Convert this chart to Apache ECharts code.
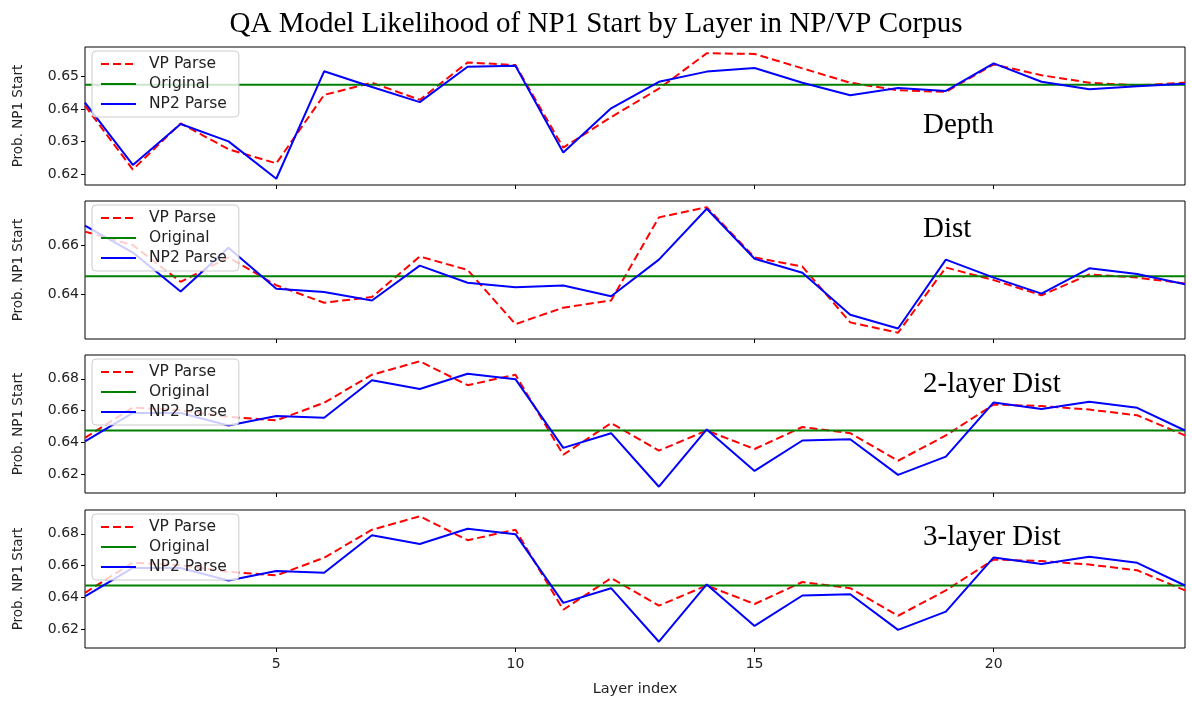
<!DOCTYPE html>
<html>
<head>
<meta charset="utf-8">
<script src="https://cdn.jsdelivr.net/npm/echarts@6/dist/echarts.min.js"></script>
<style>
  html, body { margin: 0; padding: 0; background: #fff; }
  #main { width: 1192px; height: 702px; }
</style>
</head>
<body>
<div id="main"></div>
<script>
// data
var layers = [1, 2, 3, 4, 5, 6, 7, 8, 9, 10, 11, 12, 13, 14, 15, 16, 17, 18, 19, 20, 21, 22, 23, 24];
var original = 0.6474;

var depthVP  = [0.641, 0.6215, 0.6356, 0.6277, 0.6234, 0.6443, 0.648, 0.6428, 0.6542, 0.6534, 0.6282, 0.6375, 0.6462, 0.657, 0.6568, 0.6524, 0.648, 0.6457, 0.6452, 0.6536, 0.6503, 0.648, 0.6472, 0.648];
var depthNP2 = [0.6419, 0.6229, 0.6354, 0.6301, 0.6187, 0.6515, 0.6467, 0.6421, 0.6529, 0.6532, 0.6267, 0.6402, 0.6483, 0.6514, 0.6525, 0.648, 0.6442, 0.6464, 0.6455, 0.6539, 0.6483, 0.646, 0.6469, 0.6477];

var distVP  = [0.6655, 0.66, 0.6451, 0.655, 0.6437, 0.6366, 0.6389, 0.6554, 0.6499, 0.6279, 0.6346, 0.6375, 0.6713, 0.6754, 0.655, 0.6513, 0.6286, 0.6244, 0.6509, 0.6458, 0.6396, 0.6481, 0.6468, 0.6444];
var distNP2 = [0.6679, 0.657, 0.6412, 0.6589, 0.6423, 0.641, 0.6375, 0.6517, 0.6447, 0.6429, 0.6436, 0.6392, 0.6541, 0.6748, 0.6545, 0.6488, 0.6317, 0.6261, 0.6541, 0.6468, 0.6403, 0.6506, 0.6483, 0.6441];

var dist2VP  = [0.6428, 0.6619, 0.6602, 0.656, 0.6538, 0.6649, 0.6826, 0.6911, 0.676, 0.6826, 0.6321, 0.6521, 0.6347, 0.6474, 0.6357, 0.6496, 0.6457, 0.6283, 0.6443, 0.6638, 0.6628, 0.6606, 0.657, 0.6443];
var dist2NP2 = [0.6406, 0.6585, 0.6585, 0.6506, 0.6566, 0.6555, 0.6791, 0.6736, 0.6832, 0.6798, 0.6364, 0.6457, 0.6119, 0.6481, 0.6219, 0.6411, 0.6419, 0.6194, 0.6309, 0.6651, 0.6609, 0.6655, 0.6617, 0.6474];

var dist3VP  = [0.6428, 0.6619, 0.6602, 0.656, 0.6538, 0.6649, 0.6826, 0.6911, 0.676, 0.6826, 0.6321, 0.6521, 0.6347, 0.6474, 0.6357, 0.6496, 0.6457, 0.6283, 0.6443, 0.6638, 0.6628, 0.6606, 0.657, 0.6443];
var dist3NP2 = [0.6406, 0.6585, 0.6585, 0.6506, 0.6566, 0.6555, 0.6791, 0.6736, 0.6832, 0.6798, 0.6364, 0.6457, 0.6119, 0.6481, 0.6219, 0.6411, 0.6419, 0.6194, 0.6309, 0.6651, 0.6609, 0.6655, 0.6617, 0.6474];

var xTicks = [5, 10, 15, 20];
var depthTicks = [0.62, 0.63, 0.64, 0.65];
var distTicks = [0.64, 0.66];
var dist2Ticks = [0.62, 0.64, 0.66, 0.68];
var dist3Ticks = [0.62, 0.64, 0.66, 0.68];

var panelNames = ['Depth', 'Dist', '2-layer Dist', '3-layer Dist'];

var panels = [
    {vp: depthVP, np2: depthNP2, ticks: depthTicks},
    {vp: distVP, np2: distNP2, ticks: distTicks},
    {vp: dist2VP, np2: dist2NP2, ticks: dist2Ticks},
    {vp: dist3VP, np2: dist3NP2, ticks: dist3Ticks}
];

var tops = [47, 201, 355, 510];
var labelTops = [106, 210, 365, 518];
var panelH = 138;

function pairs(vals) {
    var out = [];
    for (var i = 0; i < layers.length; i++) {
        out.push([layers[i], vals[i]]);
    }
    return out;
}

var chart = echarts.init(document.getElementById('main'));

var grids = [], xAxes = [], yAxes = [], series = [], legends = [];
var titles = [{
    text: 'QA Model Likelihood of NP1 Start by Layer in NP/VP Corpus',
    left: 'center',
    top: 5,
    textStyle: {fontFamily: 'Liberation Serif', fontSize: 29, fontWeight: 'normal', color: '#000'}
}];

for (var p = 0; p < panels.length; p++) {
    var last = (p === panels.length - 1);
    grids.push({
        left: 85, width: 1100, top: tops[p], height: panelH,
        show: true, borderColor: '#000', borderWidth: 1, backgroundColor: 'transparent'
    });
    xAxes.push({
        type: 'value', gridIndex: p, min: 1, max: 24,
        axisLine: {show: false},
        axisTick: {show: true, length: 4, customValues: xTicks, lineStyle: {color: '#000'}},
        axisLabel: {show: last, customValues: xTicks, fontFamily: 'DejaVu Sans', fontSize: 14, color: '#222', margin: 9},
        splitLine: {show: false},
        name: last ? 'Layer index' : '',
        nameLocation: 'middle', nameGap: 34,
        nameTextStyle: {fontFamily: 'DejaVu Sans', fontSize: 14.5, color: '#222'}
    });
    yAxes.push({
        type: 'value', gridIndex: p,
        // matplotlib style 5% margins
        min: function (v) { return v.min - 0.05 * (v.max - v.min); },
        max: function (v) { return v.max + 0.05 * (v.max - v.min); },
        axisLine: {show: false},
        axisTick: {show: true, length: 4, customValues: panels[p].ticks, lineStyle: {color: '#000'}},
        axisLabel: {
            customValues: panels[p].ticks, fontFamily: 'DejaVu Sans', fontSize: 14, color: '#222', margin: 6,
            formatter: function (v) { return v.toFixed(2); }
        },
        splitLine: {show: false},
        name: 'Prob. NP1 Start', nameLocation: 'middle', nameRotate: 90, nameGap: 60,
        nameTextStyle: {fontFamily: 'DejaVu Sans', fontSize: 13.5, color: '#222'}
    });
    series.push({
        name: 'VP Parse', type: 'line', xAxisIndex: p, yAxisIndex: p,
        symbol: 'none', data: pairs(panels[p].vp), z: 2,
        lineStyle: {color: '#ff0000', width: 2, type: [8, 4]}, itemStyle: {color: '#ff0000'}
    });
    series.push({
        name: 'Original', type: 'line', xAxisIndex: p, yAxisIndex: p,
        symbol: 'none', data: [[layers[0], original], [layers[layers.length - 1], original]], z: 2,
        lineStyle: {color: '#008000', width: 2}, itemStyle: {color: '#008000'}
    });
    series.push({
        name: 'NP2 Parse', type: 'line', xAxisIndex: p, yAxisIndex: p,
        symbol: 'none', data: pairs(panels[p].np2), z: 3,
        lineStyle: {color: '#0000ff', width: 2}, itemStyle: {color: '#0000ff'}
    });
    legends.push({
        data: ['VP Parse', 'Original', 'NP2 Parse'],
        orient: 'vertical', left: 92, top: tops[p] + 4,
        itemWidth: 35, itemHeight: 16, itemGap: 4,
        padding: [5, 12, 5, 8],
        itemStyle: {opacity: 0},
        backgroundColor: 'rgba(255,255,255,0.8)', borderColor: '#ccc', borderWidth: 1, borderRadius: 4,
        textStyle: {fontFamily: 'DejaVu Sans', fontSize: 15.5, color: '#222', padding: [0, 0, 0, 8]}
    });
    titles.push({
        text: panelNames[p], left: 918, top: labelTops[p],
        textStyle: {fontFamily: 'Liberation Serif', fontSize: 29, fontWeight: 'normal', color: '#000'}
    });
}

chart.setOption({
    animation: false,
    title: titles,
    legend: legends,
    grid: grids,
    xAxis: xAxes,
    yAxis: yAxes,
    series: series
});
</script>
</body>
</html>
